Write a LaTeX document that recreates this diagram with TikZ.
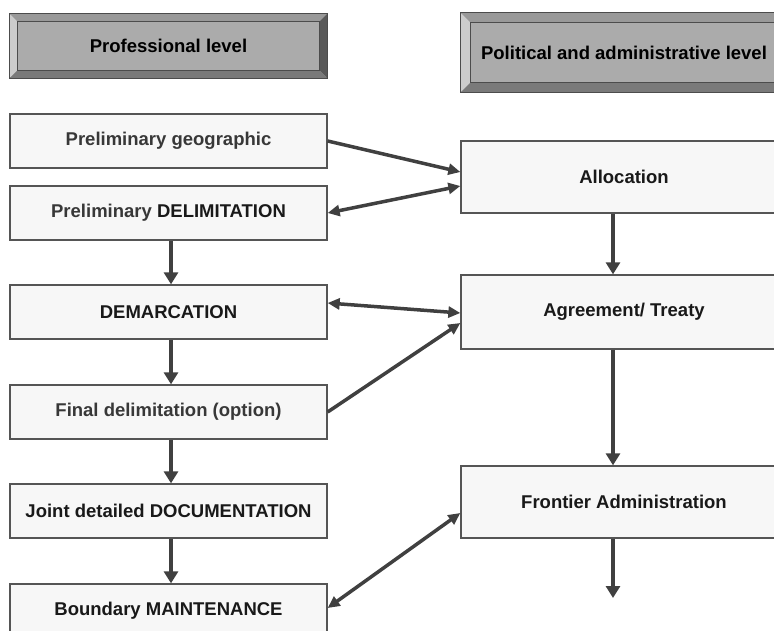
\documentclass[tikz,border=0pt]{standalone}
\usepackage{fontspec}
\setmainfont{Liberation Sans}
\usetikzlibrary{arrows.meta,calc}
\definecolor{edgegray}{HTML}{555555}
\definecolor{boxfill}{HTML}{F7F7F7}
\definecolor{headfill}{HTML}{ABABAB}
\definecolor{arrowgray}{HTML}{404040}
\definecolor{txtgray}{HTML}{383838}
\tikzset{stagebox/.style={draw=edgegray, fill=boxfill, line width=1.3pt,
    minimum width=317pt, minimum height=54pt, inner sep=0pt,
    font=\bfseries\fontsize{18.5}{20}\selectfont, text=black!90}}
\tikzset{levelbox/.style={draw=black!70, fill=headfill, line width=1pt,
    inner sep=0pt, font=\bfseries\fontsize{18.5}{20}\selectfont}}
\tikzset{flow/.style={draw=arrowgray, line width=4pt,
    -{Triangle[length=12pt,width=14pt]}}}
\tikzset{link/.style={draw=arrowgray, line width=3.5pt,
    -{Triangle[length=12pt,width=11pt]}}}
\tikzset{dlink/.style={link, {Triangle[length=12pt,width=11pt]}-{Triangle[length=12pt,width=11pt]}}}
% bevelled frame round a header node
\newcommand{\bevelframe}[2]{%
  \fill[black!20] (#1.north west) -- ($(#1.north west)+(#2,#2)$) -- ($(#1.south west)+(#2,-#2)$) -- (#1.south west) -- cycle;
  \fill[black!40] (#1.north west) -- (#1.north east) -- ($(#1.north east)+(-#2,#2)$) -- ($(#1.north west)+(#2,#2)$) -- cycle;
  \fill[black!65] (#1.north east) -- (#1.south east) -- ($(#1.south east)+(-#2,-#2)$) -- ($(#1.north east)+(-#2,#2)$) -- cycle;
  \fill[black!52] (#1.south west) -- (#1.south east) -- ($(#1.south east)+(-#2,-#2)$) -- ($(#1.south west)+(#2,-#2)$) -- cycle;
  \draw[black!70, line width=1pt] ($(#1.north west)+(#2,#2)$) rectangle ($(#1.south east)+(-#2,-#2)$);
  \draw[black!70, line width=1pt] (#1.north west) rectangle (#1.south east);}

\begin{document}
\begin{tikzpicture}[x=1pt, y=-1pt]
  \useasboundingbox (0,0) rectangle (774,631);
  % headers
  \node[levelbox, minimum width=317pt, minimum height=64pt] (prof) at (168.5,46) {Professional level};
  \node[levelbox, minimum width=326pt, minimum height=79pt] (polit) at (624,52.5) {Political and administrative level};
  \bevelframe{prof}{8}
  \bevelframe{polit}{10}
  % professional level
  \node[stagebox] (geo) at (168.5,141) {\textcolor{txtgray}{Preliminary geographic}};
  \node[stagebox] (pdelim) at (168.5,213) {\textcolor{txtgray}{Preliminary} DELIMITATION};
  \node[stagebox] (demarc) at (168.5,312) {DEMARCATION};
  \node[stagebox] (fdelim) at (168.5,412) {\textcolor{txtgray}{Final delimitation (option)}};
  \node[stagebox] (docu) at (168.5,511) {Joint detailed DOCUMENTATION};
  \node[stagebox] (maint) at (168.5,611) {Boundary MAINTENANCE};
  % political and administrative level
  \node[stagebox, minimum width=326pt, minimum height=72pt] (alloc) at (624,177) {Allocation};
  \node[stagebox, minimum width=326pt, minimum height=74pt] (treaty) at (624,312) {Agreement/ Treaty};
  \node[stagebox, minimum width=326pt, minimum height=72pt] (front) at (624,502) {Frontier Administration};
  \coordinate (frontend) at (613,598);
  % vertical flow
  \draw[flow] ([xshift=2.5pt]pdelim.south) -- ([xshift=2.5pt]demarc.north);
  \draw[flow] ([xshift=2.5pt]demarc.south) -- ([xshift=2.5pt]fdelim.north);
  \draw[flow] ([xshift=2.5pt]fdelim.south) -- ([xshift=2.5pt]docu.north);
  \draw[flow] ([xshift=2.5pt]docu.south) -- ([xshift=2.5pt]maint.north);
  \draw[flow] ([xshift=-11pt]alloc.south) -- ([xshift=-11pt]treaty.north);
  \draw[flow] ([xshift=-11pt]treaty.south) -- ([xshift=-11pt]front.north);
  \draw[flow] ([xshift=-11pt]front.south) -- (frontend);
  % links between levels
  \draw[link] (geo.east) -- ([yshift=5pt]alloc.west);
  \draw[dlink] (pdelim.east) -- ([yshift=-9pt]alloc.west);
  \draw[dlink] ([yshift=9pt]demarc.east) -- ([yshift=-1pt]treaty.west);
  \draw[link] (fdelim.east) -- ([yshift=-11pt]treaty.west);
  \draw[dlink] ([yshift=3pt]maint.east) -- ([yshift=-11pt]front.west);
\end{tikzpicture}
\end{document}
